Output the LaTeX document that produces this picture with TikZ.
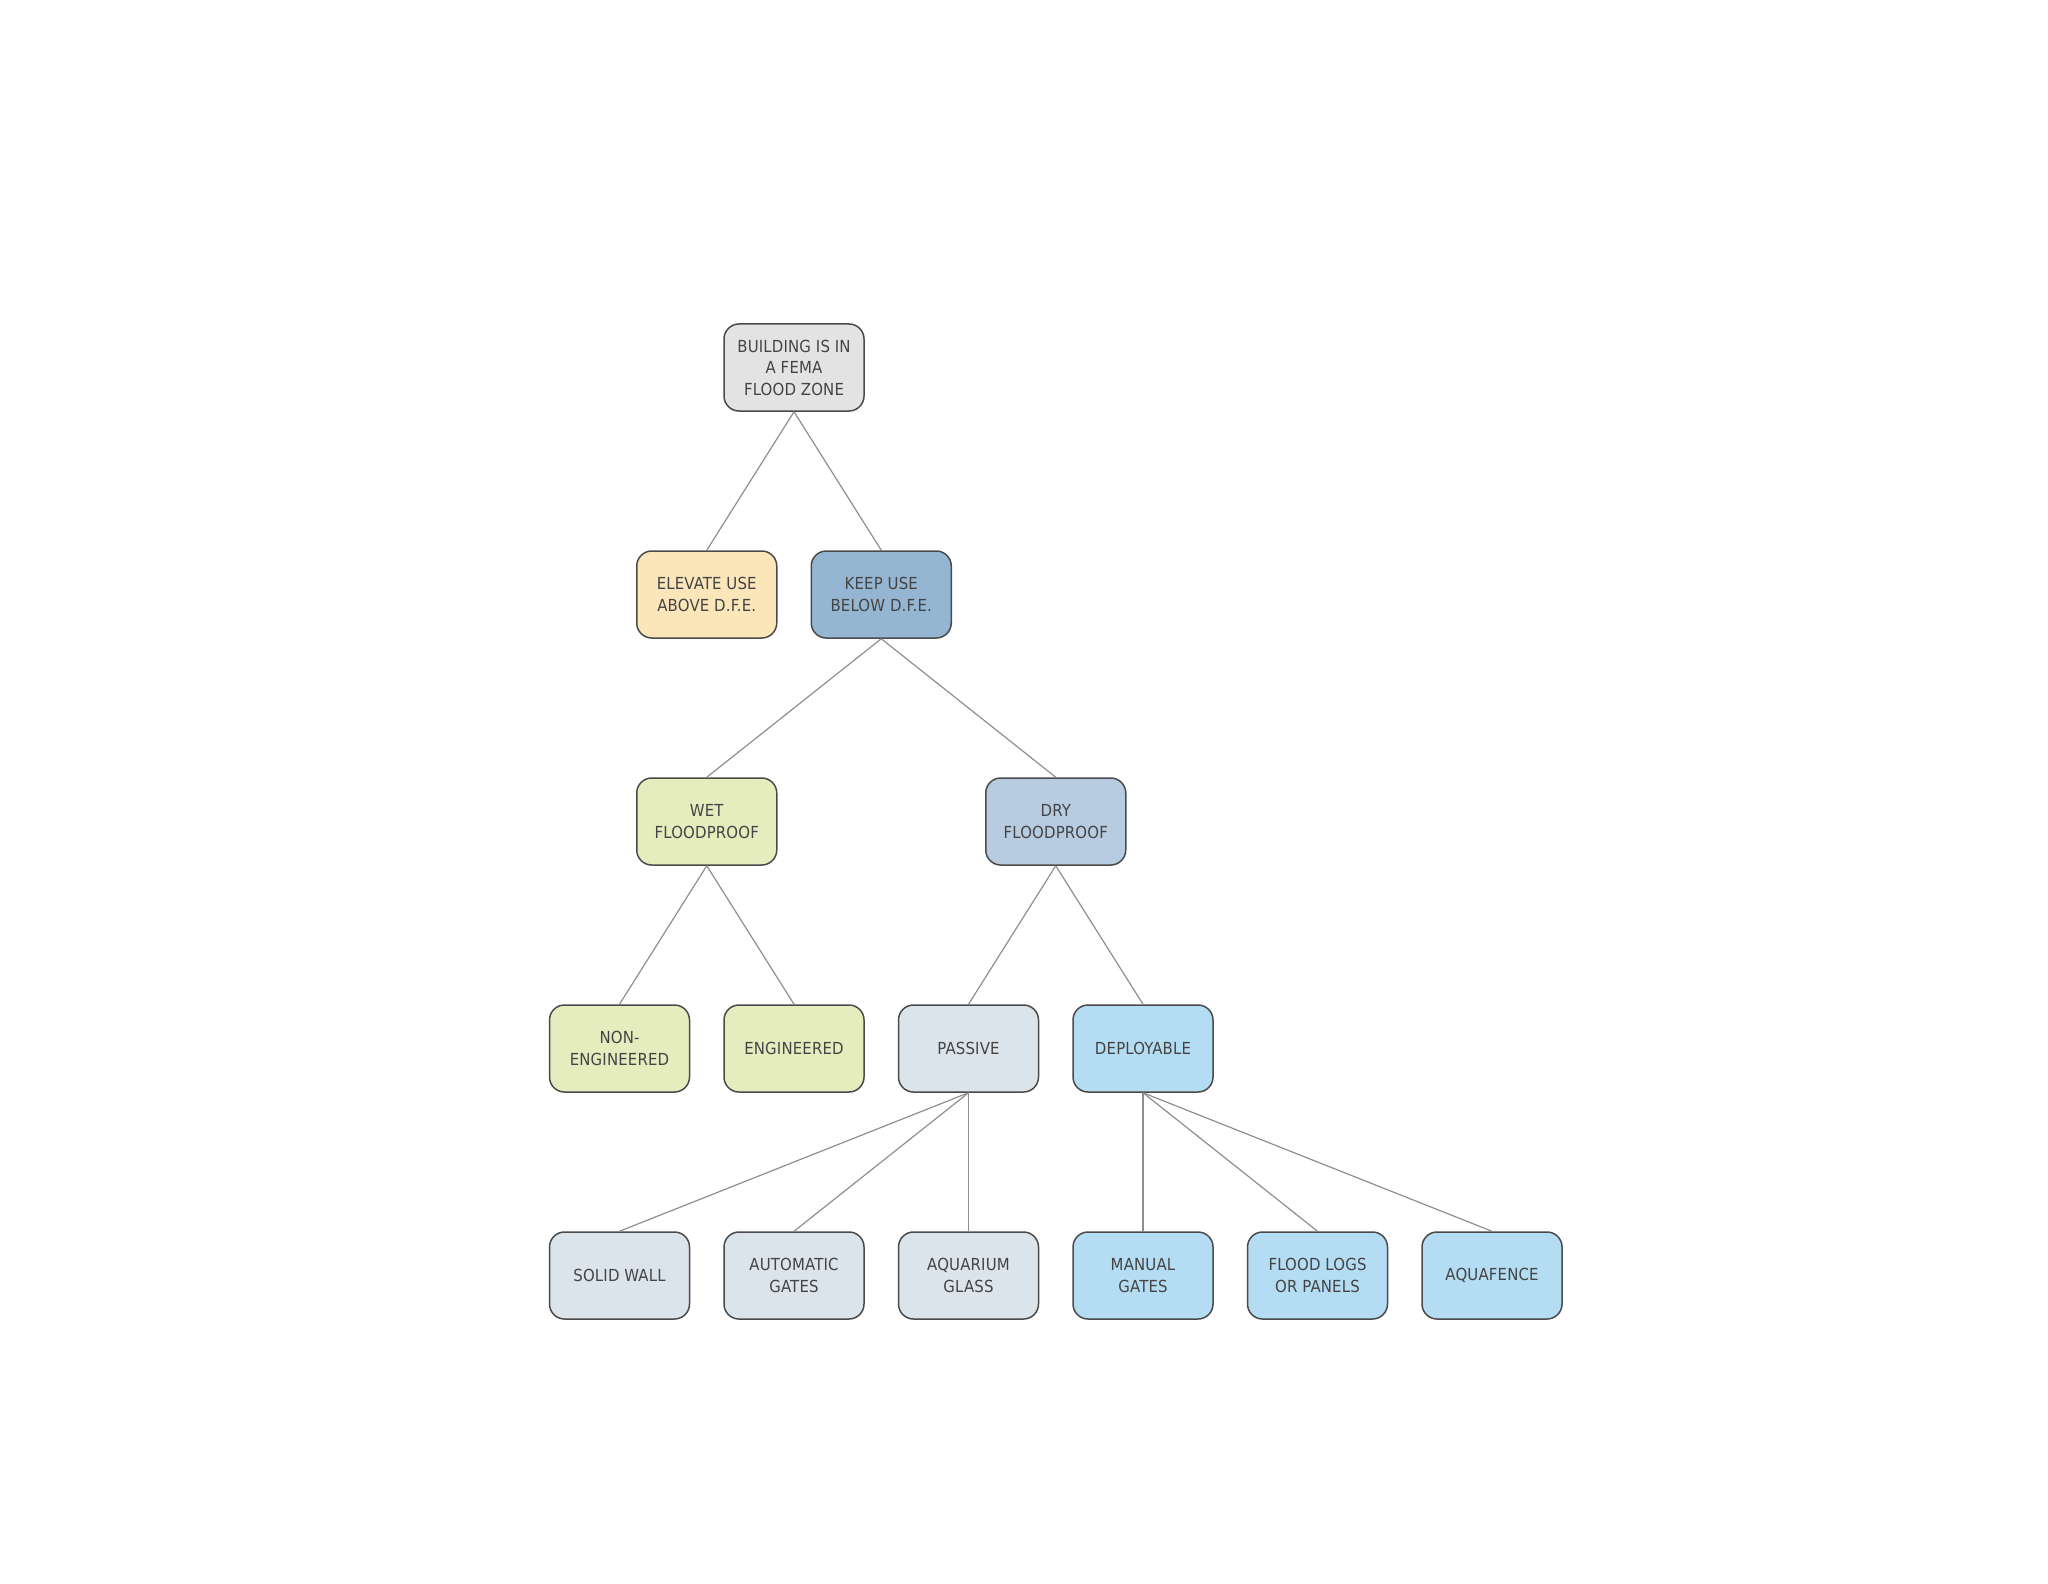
\documentclass[tikz,border=0pt]{standalone}
\usepackage{fontspec}
\setmainfont{DejaVu Sans Condensed}[LetterSpace=1]
\definecolor{cRoot}{HTML}{E3E3E3}
\definecolor{cElev}{HTML}{FBE6BA}
\definecolor{cKeep}{HTML}{94B6D3}
\definecolor{cWet}{HTML}{E5EDBF}
\definecolor{cDry}{HTML}{B7CCE0}
\definecolor{cPass}{HTML}{DBE3EB}
\definecolor{cDep}{HTML}{B4DCF2}
\definecolor{cBorder}{HTML}{4A4A4A}
\definecolor{cLine}{HTML}{8E8E8E}
\definecolor{cText}{HTML}{444444}
\begin{document}
\begin{tikzpicture}[x=0.5pt,y=-0.5pt,
  box/.style={draw=cBorder, line width=0.75pt, rounded corners=7.5pt,
    minimum width=70pt, minimum height=43.5pt, inner sep=1pt,
    align=center, text=cText, font=\fontsize{8.3}{10.75}\selectfont},
  link/.style={draw=cLine, line width=0.6pt}]
\useasboundingbox (0,0) rectangle (2048,1583);
\def\cx#1{619.5+#1*87.25}
% rows
\node[box, fill=cRoot] (root) at ({\cx{2}},367.5) {BUILDING IS IN\\A FEMA\\FLOOD ZONE};
\node[box, fill=cElev] (elev) at ({\cx{1}},594.5) {ELEVATE USE\\ABOVE D.F.E.};
\node[box, fill=cKeep] (keep) at ({\cx{3}},594.5) {KEEP USE\\BELOW D.F.E.};
\node[box, fill=cWet] (wet) at ({\cx{1}},821.5) {WET\\FLOODPROOF};
\node[box, fill=cDry] (dry) at ({\cx{5}},821.5) {DRY\\FLOODPROOF};
\node[box, fill=cWet] (noneng) at ({\cx{0}},1048.5) {NON-\\ENGINEERED};
\node[box, fill=cWet] (eng) at ({\cx{2}},1048.5) {ENGINEERED};
\node[box, fill=cPass] (pass) at ({\cx{4}},1048.5) {PASSIVE};
\node[box, fill=cDep] (dep) at ({\cx{6}},1048.5) {DEPLOYABLE};
\node[box, fill=cPass] (solid) at ({\cx{0}},1275.5) {SOLID WALL};
\node[box, fill=cPass] (auto) at ({\cx{2}},1275.5) {AUTOMATIC\\GATES};
\node[box, fill=cPass] (aqua) at ({\cx{4}},1275.5) {AQUARIUM\\GLASS};
\node[box, fill=cDep] (manual) at ({\cx{6}},1275.5) {MANUAL\\GATES};
\node[box, fill=cDep] (logs) at ({\cx{8}},1275.5) {FLOOD LOGS\\OR PANELS};
\node[box, fill=cDep] (fence) at ({\cx{10}},1275.5) {AQUAFENCE};
% links
\path[link] (root.south) -- (elev.north);
\path[link] (root.south) -- (keep.north);
\path[link] (keep.south) -- (wet.north);
\path[link] (keep.south) -- (dry.north);
\path[link] (wet.south) -- (noneng.north);
\path[link] (wet.south) -- (eng.north);
\path[link] (dry.south) -- (pass.north);
\path[link] (dry.south) -- (dep.north);
\path[link] (pass.south) -- (solid.north);
\path[link] (pass.south) -- (auto.north);
\path[link] (pass.south) -- (aqua.north);
\path[link] (dep.south) -- (manual.north);
\path[link] (dep.south) -- (logs.north);
\path[link] (dep.south) -- (fence.north);
\end{tikzpicture}
\end{document}
